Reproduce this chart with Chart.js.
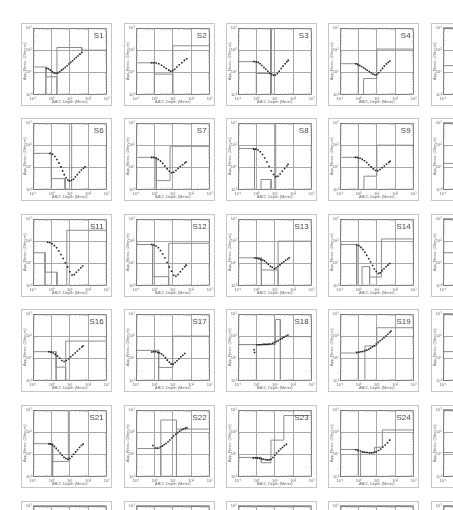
<!DOCTYPE html>
<html><head><meta charset="utf-8">
<script src="https://cdn.jsdelivr.net/npm/chart.js@4.4.0/dist/chart.umd.min.js"></script>
<style>
html,body{margin:0;padding:0;background:#fff;overflow:hidden;width:453px;height:510px;position:relative;}
.panel{position:absolute;width:91px;height:83px;box-sizing:border-box;border:1px solid #c6c6c6;background:#fff;}
.panel canvas{display:block;}
</style></head><body>
<script>
// ---- axis ticks / titles ----
const xTickValues=[0.1,1,10,100,1000];
const xTickLabels=["10\u207B\u00B9","10\u2070","10\u00B9","10\u00B2","10\u00B3"];
const yTickValues=[1,10,100,1000];
const yTickLabels=["10\u2070","10\u00B9","10\u00B2","10\u00B3"];
const xTitle="AB/2, Depth (Meter)";
const yTitle="App. Resis. (Ohm-m)";
const soundingNames=["S1","S2","S3","S4","S5","S6","S7","S8","S9","S10","S11","S12","S13","S14","S15","S16","S17","S18","S19","S20","S21","S22","S23","S24","S25","S26","S27","S28","S29","S30"];

// ---- sounding data: AB/2 (m) and apparent resistivity (Ohm-m); model: depth / resistivity vertices ----
const S1_ab=[0.56,0.71,0.89,1.12,1.41,1.78,2.24,2.82,3.55,4.47,5.62,7.08,8.91,11.2,14.1,17.8,22.4,28.2,35.5,44.7];
const S1_rho=[15.1,14.1,12.6,10.5,9.3,9.1,9.3,10.7,12.6,14.1,16.6,20.0,24.0,28.2,33.1,39.8,46.8,55.0,66.1,79.4];
const S1_depth=[0.1,0.5,0.5,0.5,2.0,2.0,2.0,44.7,44.7,1000];
const S1_res=[17.4,17.4,1,6.3,6.3,1,132,132,100,100];

const S2_ab=[0.71,0.95,1.26,1.74,2.45,3.24,4.37,6.03,7.59,9.77,12.6,16.6,22.4,30.9,42.7,57.5];
const S2_rho=[26.9,26.9,26.3,24.5,20.9,17.4,14.8,12.6,11.2,11.7,13.8,17.4,21.9,26.9,34.7,40.7];
const S2_depth=[0.1,1,1,1,10,10,10,1000];
const S2_res=[26.9,26.9,1,8.3,8.3,1,158,158];

const S3_ab=[0.74,0.98,1.26,1.58,2.0,2.57,3.24,4.17,5.25,6.76,8.51,10.7,13.8,17.4,22.4,28.2,36.3,45.7,53.7];
const S3_rho=[30.9,30.2,28.2,24.5,20.4,16.6,13.8,11.2,9.1,8.1,7.4,7.6,8.9,11.2,14.8,19.1,24.5,30.2,34.7];
const S3_depth=[0.1,1,1,1,5.89,5.89,5.89,6.31,6.31];
const S3_res=[30.2,30.2,1,8.9,8.9,1,1000,1000,1];

const S4_ab=[0.72,0.93,1.17,1.48,1.91,2.40,3.02,3.89,4.90,6.17,7.94,10,12.6,16.2,20.4,25.7,33.1,41.7,51.3];
const S4_rho=[24.5,22.4,20.4,18.2,16.2,14.1,12.3,11.0,9.55,8.32,7.59,7.94,9.55,12.0,15.1,19.1,24.0,28.2,32.4];
const S4_depth=[0.1,1,1,1.91,1.91,10,10,1000];
const S4_res=[24.5,24.5,1,1,5.25,5.25,112,112];

const S5_ab=[];
const S5_rho=[];
const S5_depth=[0.1,1];
const S5_res=[20,20];

const S6_ab=[0.85,1.15,1.55,2.0,2.57,3.31,4.07,5.01,6.31,7.76,9.55,12.3,15.8,20.0,25.7,33.1,42.7,55.0,67.6];
const S6_rho=[42.7,38.9,30.9,22.4,15.5,10.5,6.92,4.68,3.39,2.69,2.45,2.57,2.88,3.63,4.68,6.03,7.59,9.12,10.7];
const S6_depth=[0.1,1,1,1,5.5,5.5,12.6,12.6];
const S6_res=[42.7,42.7,1,3.09,3.09,1,1,1000];

const S7_ab=[0.71,0.93,1.23,1.62,2.14,2.82,3.72,4.90,6.46,8.51,11.2,14.8,19.5,25.7,33.9,44.7,52.5];
const S7_rho=[28.2,27.5,25.7,22.9,19.1,15.1,11.5,8.51,6.61,5.75,6.03,7.24,8.91,11.0,13.2,15.8,17.4];
const S7_depth=[0.1,1.26,1.26,1.26,7.08,7.08,1000];
const S7_res=[28.2,28.2,1,2.51,2.51,89.1,89.1];

const S8_ab=[0.71,0.93,1.23,1.62,2.14,2.82,3.72,4.90,6.46,8.51,11.2,14.8,19.5,25.7,33.9,44.7,52.5];
const S8_rho=[66.1,66.1,60.3,50.1,38.0,26.3,17.4,11.0,7.08,4.79,3.80,3.98,5.01,6.61,8.91,11.5,13.8];
const S8_depth=[0.1,0.79,0.79,1.78,1.78,6.31,6.31,11.2,11.2];
const S8_res=[70.8,70.8,1,1,2.82,2.82,1,1,1000];

const S9_ab=[0.71,0.93,1.23,1.62,2.14,2.82,3.72,4.90,6.46,8.51,11.2,14.8,19.5,25.7,33.9,44.7,52.5];
const S9_rho=[28.2,27.5,25.7,22.9,20.0,16.6,13.2,10.5,8.51,7.24,7.08,7.94,9.55,11.5,13.8,16.6,18.6];
const S9_depth=[0.1,1,1,2,2,10,10,1000];
const S9_res=[28.2,28.2,1,1,3.98,3.98,100,100];

const S10_ab=[];
const S10_rho=[];
const S10_depth=[0.1,1];
const S10_res=[15,15];

const S11_ab=[0.63,0.83,1.10,1.45,1.91,2.51,3.31,4.37,5.75,7.59,10,13.2,17.4,22.9,30.2,39.8,50.1];
const S11_rho=[89.1,85.1,75.9,63.1,50.1,36.3,25.1,16.6,10.7,6.92,4.17,2.95,3.16,3.98,5.01,6.31,7.59];
const S11_depth=[0.1,0.45,0.45,0.45,2.0,2.0,6.9,6.9,1000];
const S11_res=[30,30,1,4,4,1,1,310,310];

const S12_ab=[0.71,0.93,1.23,1.62,2.14,2.82,3.72,4.90,6.46,8.51,11.2,14.8,19.5,25.7,33.9,44.7,52.5];
const S12_rho=[70.8,67.6,60.3,50.1,38.0,26.3,17.4,11.0,6.92,4.37,2.88,2.63,3.16,4.17,5.50,7.08,8.32];
const S12_depth=[0.1,0.8,0.8,0.8,6,6,6,1000];
const S12_res=[70.8,70.8,1,2.5,2.5,1,80,80];

const S13_ab=[0.83,1.07,1.35,1.70,2.19,2.75,3.55,4.47,5.75,7.24,9.33,11.7,14.8,19.1,24.0,30.9,38.9,50.1,60.3];
const S13_rho=[17.4,17.0,16.2,15.1,14.1,12.9,11.0,9.12,7.41,6.61,5.75,6.17,7.24,8.51,10,11.7,13.8,15.8,17.8];
const S13_depth=[0.1,1.86,1.86,1.86,15.1,15.1,15.1,1000];
const S13_res=[17.8,17.8,1,5.01,5.01,1,100,100];

const S14_ab=[0.81,1.07,1.38,1.74,2.24,2.82,3.63,4.57,5.89,7.41,9.33,12.0,15.1,19.5,24.5,31.6,39.8,50.1];
const S14_rho=[69.2,61.7,52.5,41.7,31.6,22.9,16.2,11.5,7.94,5.50,4.27,3.47,3.72,4.68,5.75,7.08,8.32,9.77];
const S14_depth=[0.1,0.81,0.81,1.58,1.58,4.07,4.07,4.07,17.8,17.8,1000];
const S14_res=[70.8,70.8,1,1,7.08,7.08,1,2.40,2.40,126,126];

const S15_ab=[];
const S15_rho=[];
const S15_depth=[0.1,1];
const S15_res=[30,30];

const S16_ab=[0.71,0.93,1.23,1.62,2.14,2.82,3.72,4.90,6.46,8.51,11.2,14.8,19.5,25.7,33.9,44.7,52.5];
const S16_rho=[20.0,19.1,17.4,15.1,12.6,10.0,7.94,7.24,7.94,9.55,11.7,14.1,17.4,21.4,26.3,32.4,36.3];
const S16_depth=[0.1,1.8,1.8,1.8,6,6,6,1000];
const S16_res=[20,20,1,4,4,1,60,60];

const S17_ab=[0.72,0.91,1.17,1.51,1.91,2.45,3.09,3.98,5.01,6.46,8.13,10.5,13.2,17.0,21.4,27.5,34.7,44.7];
const S17_rho=[19.5,20.0,20.0,18.6,17.4,15.8,13.5,11.0,8.32,6.61,5.62,5.37,6.46,7.76,9.55,11.7,13.8,16.6];
const S17_depth=[0.1,1.7,1.7,1.7,10,10,1000];
const S17_res=[22.9,22.9,1,3.89,3.89,100,100];

const S18_ab=[0.74,0.79,1.10,1.41,1.78,2.29,2.88,3.72,4.68,5.89,7.59,9.55,12.3,15.5,20.0,25.1,31.6,40.7,51.3];
const S18_rho=[24.5,18.2,40.7,40.7,40.7,42.7,42.7,42.7,43.7,44.7,47.9,51.3,57.5,63.1,72.4,79.4,89.1,102,112];
const S18_depth=[1,1,0.1,10.7,10.7,20,20,20,1000];
const S18_res=[1,41.7,41.7,41.7,562,562,1,95.5,95.5];

const S19_ab=[0.81,1.07,1.38,1.74,2.24,2.82,3.63,4.57,5.89,7.41,9.33,12.0,15.1,19.5,24.5,31.6,39.8,50.1,58.9];
const S19_rho=[18.6,19.1,20.0,20.4,21.9,23.4,25.7,28.8,33.1,37.2,44.7,52.5,61.7,72.4,85.1,102,123,145,166];
const S19_depth=[0.1,1,1,2.24,2.24,10,10,1000];
const S19_res=[17.4,17.4,1,1,36.3,36.3,240,240];

const S20_ab=[];
const S20_rho=[];
const S20_depth=[0.1,1];
const S20_res=[20,20];

const S21_ab=[0.72,0.89,1.12,1.45,1.82,2.34,2.95,3.80,4.79,6.17,7.76,10,12.9,16.2,20.9,26.3,33.9,42.7,52.5];
const S21_rho=[30.2,28.8,26.9,22.9,18.6,14.8,11.5,9.12,7.41,6.46,6.03,6.46,7.94,10,12.9,16.2,20.4,25.1,28.8];
const S21_depth=[0.1,1.17,1.17,1.17,8.32,8.32];
const S21_res=[30.2,30.2,1,4.79,4.79,1000];

const S22_ab=[0.83,1.15,1.51,2.09,2.69,3.39,4.27,5.50,6.92,8.91,11.2,14.5,18.2,23.4,29.5,37.2,47.9,58.9];
const S22_rho=[25.1,19.5,19.5,21.4,23.4,26.9,30.9,37.2,44.7,55.0,67.6,81.3,95.5,110,126,138,148,158];
const S22_depth=[0.1,2.24,2.24,2.24,15.8,15.8,15.8,1000];
const S22_res=[18.2,18.2,1,355,355,1,138,138];

const S23_ab=[0.68,0.91,1.15,1.48,1.86,2.34,3.02,3.80,4.90,6.17,7.94,10,12.6,16.2,20.4,26.3,33.1,42.7];
const S23_rho=[6.76,6.92,6.76,6.46,6.31,6.03,5.89,5.62,5.62,6.03,7.24,9.12,11.5,14.1,17.4,20.4,24.5,28.2];
const S23_depth=[0.1,1.86,1.86,6.17,6.17,30.9,30.9,1000];
const S23_res=[7.24,7.24,4.17,4.17,43.7,43.7,562,562];

const S24_ab=[0.72,0.95,1.29,1.70,2.24,2.95,3.98,5.25,6.92,9.12,12.3,16.2,21.4,28.8,38.0,50.1];
const S24_rho=[16.2,15.1,14.1,13.2,12.3,12.0,11.5,11.5,12.0,12.9,14.8,17.4,21.4,26.3,33.1,43.7];
const S24_depth=[0.1,1,1,1.32,1.32,7.59,7.59,20,20,1000];
const S24_res=[16.6,16.6,1,1,12.0,12.0,20.9,20.9,126,126];

const S25_ab=[];
const S25_rho=[];
const S25_depth=[0.1,1];
const S25_res=[12,12];

const soundings={
 S1:[S1_ab,S1_rho,S1_depth,S1_res],S2:[S2_ab,S2_rho,S2_depth,S2_res],S3:[S3_ab,S3_rho,S3_depth,S3_res],
 S4:[S4_ab,S4_rho,S4_depth,S4_res],S5:[S5_ab,S5_rho,S5_depth,S5_res],S6:[S6_ab,S6_rho,S6_depth,S6_res],
 S7:[S7_ab,S7_rho,S7_depth,S7_res],S8:[S8_ab,S8_rho,S8_depth,S8_res],S9:[S9_ab,S9_rho,S9_depth,S9_res],
 S10:[S10_ab,S10_rho,S10_depth,S10_res],S11:[S11_ab,S11_rho,S11_depth,S11_res],S12:[S12_ab,S12_rho,S12_depth,S12_res],
 S13:[S13_ab,S13_rho,S13_depth,S13_res],S14:[S14_ab,S14_rho,S14_depth,S14_res],S15:[S15_ab,S15_rho,S15_depth,S15_res],
 S16:[S16_ab,S16_rho,S16_depth,S16_res],S17:[S17_ab,S17_rho,S17_depth,S17_res],S18:[S18_ab,S18_rho,S18_depth,S18_res],
 S19:[S19_ab,S19_rho,S19_depth,S19_res],S20:[S20_ab,S20_rho,S20_depth,S20_res],S21:[S21_ab,S21_rho,S21_depth,S21_res],
 S22:[S22_ab,S22_rho,S22_depth,S22_res],S23:[S23_ab,S23_rho,S23_depth,S23_res],S24:[S24_ab,S24_rho,S24_depth,S24_res],
 S25:[S25_ab,S25_rho,S25_depth,S25_res]
};

// ---- layout ----
const colLefts=[21,124,226,328,431];
const rowTops=[23,118,214,309,405,501];
const FONT='"Liberation Sans", Arial, sans-serif';

const decor={
 id:'decor',
 afterDraw(chart,args,opts){
  const {ctx,chartArea:a,scales}=chart; const x=scales.x,y=scales.y;
  ctx.save();
  ctx.strokeStyle='#7a7a7a'; ctx.lineWidth=1;
  const L=Math.round(a.left)+0.5,R=Math.round(a.right)-0.5,T=Math.round(a.top)+0.5,B=Math.round(a.bottom)-0.5;
  ctx.strokeRect(L,T,R-L,B-T);
  ctx.strokeStyle='#b4b4b4'; ctx.beginPath();
  for(let e=-1;e<3;e++){for(let k=2;k<10;k++){const px=Math.round(x.getPixelForValue(k*Math.pow(10,e)))+0.5;ctx.moveTo(px,B);ctx.lineTo(px,B-1.2);ctx.moveTo(px,T);ctx.lineTo(px,T+1.2);}}
  for(let e=0;e<3;e++){for(let k=2;k<10;k++){const py=Math.round(y.getPixelForValue(k*Math.pow(10,e)))+0.5;ctx.moveTo(L,py);ctx.lineTo(L+1.2,py);ctx.moveTo(R,py);ctx.lineTo(R-1.2,py);}}
  ctx.stroke();
  ctx.fillStyle='#454545'; ctx.font='8px '+FONT; ctx.textAlign='right'; ctx.textBaseline='alphabetic';
  ctx.fillText(opts.label,a.right-3,a.top+10);
  ctx.restore();
 }
};

function scaleCfg(isX){
 const vals=isX?xTickValues:yTickValues, labs=isX?xTickLabels:yTickLabels;
 return {
  type:'logarithmic',min:isX?0.1:1,max:1000,
  afterBuildTicks(s){s.ticks=vals.map(v=>({value:v}));},
  afterFit(s){if(isX)s.height=10.5;else s.width=11;},
  grid:{color:'#a8a8a8',lineWidth:1,drawTicks:false},
  border:{display:false},
  ticks:{autoSkip:false,maxRotation:0,minRotation:0,padding:1.5,color:'#666',font:{size:4,family:FONT},
   callback:(v)=>{const i=vals.indexOf(v);return i>=0?labs[i]:'';}},
  title:{display:true,text:isX?xTitle:yTitle,color:'#666',font:{size:4,family:FONT},padding:{top:0,bottom:0.5}}
 };
}

soundingNames.forEach((name,idx)=>{
 const r=Math.floor(idx/5),c=idx%5;
 const div=document.createElement('div'); div.className='panel';
 div.style.left=colLefts[c]+'px'; div.style.top=rowTops[r]+'px';
 const cv=document.createElement('canvas'); cv.width=89; cv.height=81; cv.style.width='89px'; cv.style.height='81px';
 div.appendChild(cv); document.body.appendChild(div);
 const s=soundings[name]||[[],[],[],[]];
 const pts=s[0].map((v,i)=>({x:v,y:s[1][i]}));
 const mdl=s[2].map((v,i)=>({x:v,y:s[3][i]}));
 new Chart(cv,{
  type:'scatter',
  data:{datasets:[
   {data:mdl,showLine:true,borderColor:'#8c8c8c',borderWidth:1,pointRadius:0,fill:false,tension:0,order:2},
   {data:pts,showLine:false,pointStyle:'rect',pointRadius:1.1,backgroundColor:'#1c1c1c',borderWidth:0,order:1}
  ]},
  options:{
   responsive:false,animation:false,devicePixelRatio:1,
   layout:{padding:{top:2.5,right:3.5,left:0,bottom:0}},
   plugins:{legend:{display:false},tooltip:{enabled:false},decor:{label:name}},
   scales:{x:scaleCfg(true),y:scaleCfg(false)}
  },
  plugins:[decor]
 });
});
</script>
</body></html>
